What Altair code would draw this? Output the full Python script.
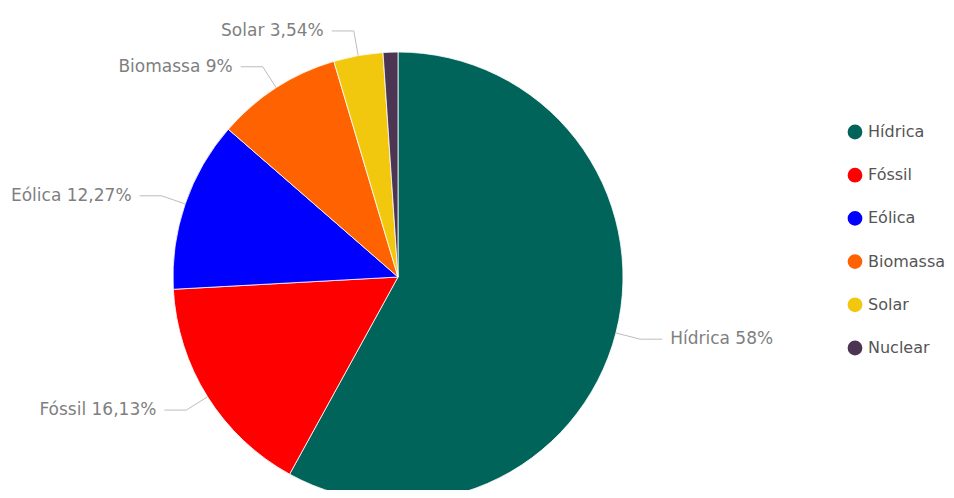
import altair as alt
import pandas as pd

categories = ["Hídrica", "Fóssil", "Eólica", "Biomassa", "Solar", "Nuclear"]
values = [58.0, 16.13, 12.27, 9.0, 3.54, 1.06]
colors = ["#01645A", "#FF0000", "#0000FF", "#FF6200", "#F2C80F", "#4B3553"]

labels = [f"{c} {v:g}%".replace(".", ",") for c, v in zip(categories, values)]

df = pd.DataFrame({
    "cat": categories,
    "value": values,
    "idx": list(range(len(categories))),
    "label": labels,
})

W, H = 938, 482
CX, CY = 390, 269          # pie centre inside the view (pixels)
R = 225                     # pie radius
R_ELBOW = 250
HSEG = 22
GAP = 8
FONT = "DejaVu Sans"

xs = alt.Scale(domain=[-CX, W - CX], nice=False, zero=False)
ys = alt.Scale(domain=[CY - H, CY], nice=False, zero=False)

base = alt.Chart(df)

pie = base.mark_arc(outerRadius=R, stroke="#ffffff", strokeWidth=0.8).encode(
    theta=alt.Theta("value:Q", stack=True),
    order=alt.Order("idx:Q"),
    color=alt.Color(
        "cat:N",
        scale=alt.Scale(domain=categories, range=colors),
        sort=categories,
        legend=alt.Legend(
            title=None,
            orient="none",
            legendX=839,
            legendY=116,
            symbolType="circle",
            symbolSize=218,
            symbolStrokeWidth=0,
            labelFont=FONT,
            labelFontSize=16,
            labelColor="#555555",
            labelOffset=5,
            rowPadding=27.2,
            padding=0,
        ),
    ),
    x=alt.X(datum=0, type="quantitative", scale=xs, axis=None),
    y=alt.Y(datum=0, type="quantitative", scale=ys, axis=None),
)

geo = base.transform_joinaggregate(
    total="sum(value)"
).transform_window(
    cum="sum(value)", sort=[alt.SortField("idx")], frame=[None, 0]
).transform_calculate(
    a="2*PI*(datum.cum - datum.value/2)/datum.total",
).transform_calculate(
    side="sin(datum.a) >= 0 ? 1 : -1",
    x0=f"{R}*sin(datum.a)",
    y0=f"{R}*cos(datum.a)",
    x1=f"{R_ELBOW}*sin(datum.a)",
    y1=f"{R_ELBOW}*cos(datum.a)",
).transform_calculate(
    x2=f"datum.x1 + datum.side*{HSEG}",
    tx=f"datum.x1 + datum.side*{HSEG + GAP}",
).transform_filter("datum.value >= 2")

lead1 = geo.mark_rule(color="#BDBDBD", strokeWidth=1).encode(
    x=alt.X("x0:Q", scale=xs, axis=None),
    y=alt.Y("y0:Q", scale=ys, axis=None),
    x2="x1:Q",
    y2="y1:Q",
)
lead2 = geo.mark_rule(color="#BDBDBD", strokeWidth=1).encode(
    x=alt.X("x1:Q", scale=xs, axis=None),
    y=alt.Y("y1:Q", scale=ys, axis=None),
    x2="x2:Q",
    y2="y1:Q",
)

txt_right = geo.transform_filter("datum.side > 0").mark_text(
    align="left", baseline="middle", font=FONT, fontSize=17, color="#7F7F7F"
).encode(
    x=alt.X("tx:Q", scale=xs, axis=None),
    y=alt.Y("y1:Q", scale=ys, axis=None),
    text="label:N",
)
txt_left = geo.transform_filter("datum.side < 0").mark_text(
    align="right", baseline="middle", font=FONT, fontSize=17, color="#7F7F7F"
).encode(
    x=alt.X("tx:Q", scale=xs, axis=None),
    y=alt.Y("y1:Q", scale=ys, axis=None),
    text="label:N",
)

chart = alt.layer(pie, lead1, lead2, txt_left, txt_right).properties(
    width=W, height=H, padding=0, autosize=alt.AutoSizeParams(type="none")
).configure_view(stroke=None)

chart.save("out.html", embed_options={"renderer": "svg", "actions": False})
